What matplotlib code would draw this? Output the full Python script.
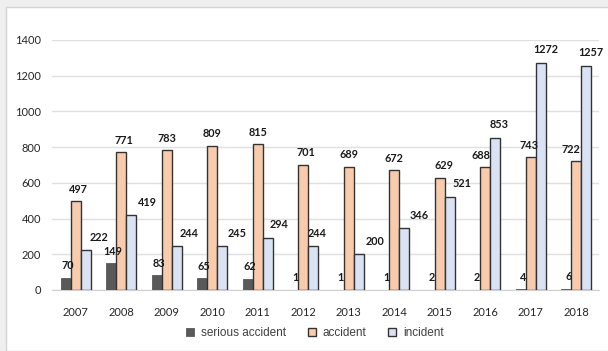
import matplotlib.pyplot as plt
import numpy as np
from matplotlib.patches import Rectangle

years = ['2007', '2008', '2009', '2010', '2011', '2012', '2013', '2014', '2015', '2016', '2017', '2018']
serious = [70, 149, 83, 65, 62, 1, 1, 1, 2, 2, 4, 6]
accident = [497, 771, 783, 809, 815, 701, 689, 672, 629, 688, 743, 722]
incident = [222, 419, 244, 245, 294, 244, 200, 346, 521, 853, 1272, 1257]

# label nudges (pixels) to mimic the hand-placed labels in the original
inc_dx = [13, 16, 12, 15, 11, 4, 16, 15, 12, 4, 5, 5]
acc_dx = [3, 3, 0, 0, 0, 3, 0, 0, 4, -4, -2, -5]

fig = plt.figure(figsize=(6.08, 3.51), dpi=100, facecolor='#efefef')
fig.patches.append(Rectangle((6 / 608, 0), 1, 1 - 7 / 351, transform=fig.transFigure,
                             facecolor='white', edgecolor='#d4d4d4', lw=1, zorder=-5))
ax = fig.add_axes([52 / 608, 61 / 351, 547 / 608, 250 / 351])
ax.set_facecolor('none')

x = np.arange(len(years))
w = 0.22
b1 = ax.bar(x - w, serious, w, color='#595959', edgecolor='#595959', lw=0.6, label='serious accident', zorder=3)
b2 = ax.bar(x, accident, w, color='#f8cbad', edgecolor='#333333', lw=1, label='accident', zorder=3)
b3 = ax.bar(x + w, incident, w, color='#dae3f3', edgecolor='#333333', lw=1, label='incident', zorder=3)

lab = dict(textcoords='offset pixels', ha='center', va='center', fontsize=7.8,
           fontweight='bold', family='Lato', color='#1a1a1a', zorder=4)
for i in range(len(years)):
    ax.annotate(str(serious[i]), (x[i] - w, serious[i]), xytext=(2, 12), **lab)
    ax.annotate(str(accident[i]), (x[i], accident[i]), xytext=(acc_dx[i], 12), **lab)
    ax.annotate(str(incident[i]), (x[i] + w, incident[i]), xytext=(inc_dx[i], 13), **lab)

ax.set_xlim(-0.52, 11.5)
ax.set_ylim(0, 1400)
ax.set_yticks(range(0, 1401, 200))
ax.set_xticks(x)
ax.set_xticklabels(years)
ax.grid(axis='y', color='#e0e0e0', lw=1, zorder=0)
for s in ['top', 'right', 'left']:
    ax.spines[s].set_visible(False)
ax.spines['bottom'].set_color('#d0d0d0')
ax.tick_params(length=0, labelsize=8, colors='#262626', pad=8)
ax.tick_params(axis='x', pad=12)
for t in ax.get_xticklabels() + ax.get_yticklabels():
    t.set_family('Lato')

leg = fig.legend(handles=[b1, b2, b3], loc='center', bbox_to_anchor=(315 / 608, 18 / 351),
                 ncol=3, frameon=False, prop={'family': 'Liberation Sans', 'size': 8.5},
                 handlelength=0.7, handleheight=0.7, handletextpad=0.6, columnspacing=1.8)
for t in leg.get_texts():
    t.set_color('#404040')

fig.savefig('out.png', dpi=100, facecolor=fig.get_facecolor())
